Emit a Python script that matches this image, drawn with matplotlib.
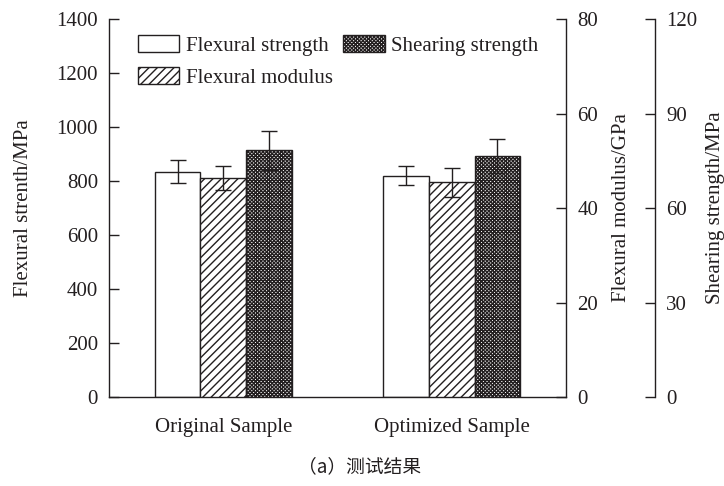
import matplotlib
matplotlib.use("Agg")
import matplotlib.pyplot as plt
import numpy as np

plt.rcParams['font.family'] = ['Liberation Serif', 'DejaVu Serif']
plt.rcParams['hatch.linewidth'] = 1.0

categories = ["Original Sample", "Optimized Sample"]
flex_strength = [835, 820]
flex_strength_err = [42, 34]
flex_modulus = [46.3, 45.4]
flex_modulus_err = [2.5, 3.0]
shear_strength = [78.4, 76.5]
shear_strength_err = [6.2, 5.3]

ink = '#231f20'
fs = 15

fig = plt.figure(figsize=(7.24, 4.86), dpi=100)
ax1 = fig.add_axes([0.1506, 0.1831, 0.6312, 0.7778])
ax2 = ax1.twinx()
ax3 = ax1.twinx()

x = np.arange(len(categories))
w = 0.2
ekw = dict(ecolor=ink, elinewidth=1.0, capsize=6, capthick=1.0)

b1 = ax1.bar(x - w, flex_strength, w, yerr=flex_strength_err, color='white',
             edgecolor=ink, linewidth=1.0, label='Flexural strength', error_kw=ekw, zorder=2)
b2 = ax2.bar(x, flex_modulus, w, yerr=flex_modulus_err, color='white',
             edgecolor=ink, linewidth=1.0, hatch='////', label='Flexural modulus', error_kw=ekw, zorder=2)
b3 = ax3.bar(x + w, shear_strength, w, yerr=shear_strength_err, color='white',
             edgecolor=ink, linewidth=1.0, hatch='xxxxxxxxx', label='Shearing strength', error_kw=ekw, zorder=2)

ax1.set_xlim(-0.5, 1.5)
ax1.set_ylim(0, 1400)
ax1.set_yticks(np.arange(0, 1401, 200))
ax2.set_ylim(0, 80)
ax2.set_yticks(np.arange(0, 81, 20))
ax3.set_ylim(0, 120)
ax3.set_yticks(np.arange(0, 121, 30))

ax1.set_xticks(x)
ax1.set_xticklabels(categories, fontsize=fs, color=ink)
ax1.tick_params(axis='x', length=0, pad=15)
for ax in (ax1, ax2, ax3):
    ax.tick_params(axis='y', direction='in', length=7, width=1.0, color=ink,
                   labelsize=fs, labelcolor=ink, pad=8)
    ax.spines['top'].set_visible(False)
    for s in ax.spines.values():
        s.set_color(ink)
        s.set_linewidth(1.0)

ax1.spines['right'].set_visible(False)
ax2.spines['left'].set_visible(False)
ax2.spines['bottom'].set_visible(False)
ax3.spines['left'].set_visible(False)
ax3.spines['bottom'].set_visible(False)
ax3.spines['right'].set_position(('axes', 1.195))

ax1.set_ylabel('Flexural strenth/MPa', fontsize=fs, color=ink, labelpad=17)
ax2.set_ylabel('Flexural modulus/GPa', fontsize=fs, color=ink, labelpad=10)
ax3.set_ylabel('Shearing strength/MPa', fontsize=fs, color=ink, labelpad=6)

handles = [b1, b2, b3]
leg = ax1.legend(handles, [h.get_label() for h in handles], ncol=2, loc='upper left',
                 bbox_to_anchor=(0.063, 0.957), frameon=False, fontsize=fs,
                 handlelength=2.0, handleheight=0.87, handletextpad=0.3,
                 columnspacing=0.5, labelspacing=0.55, borderaxespad=0, borderpad=0)
for t in leg.get_texts():
    t.set_color(ink)

fig.text(0.497, 0.039, '（a）测试结果', ha='center', va='center', fontsize=13.5,
         family=['Noto Sans CJK SC', 'DejaVu Sans'], color=ink)

fig.savefig('out.png', dpi=100)
